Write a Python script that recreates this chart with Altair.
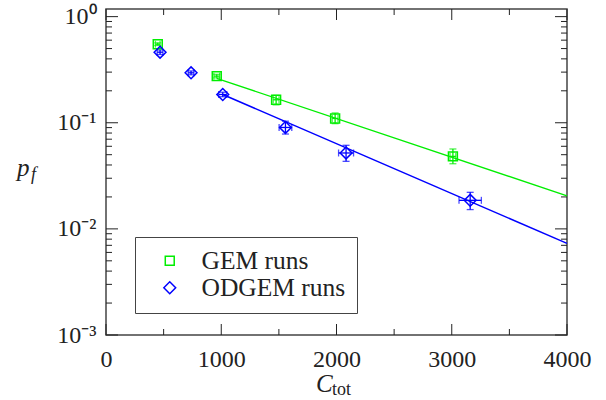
import altair as alt
import pandas as pd

# ---------------- data ----------------
series_names = ["GEM runs", "ODGEM runs"]
series_colors = ["#00ee00", "#0000ff"]

gem_x = [449, 961, 1476, 1988, 3010]
gem_y = [0.550, 0.275, 0.1646, 0.1098, 0.0482]
gem_ylo = [0.535, 0.265, 0.1475, 0.0981, 0.0411]
gem_yhi = [0.566, 0.286, 0.181, 0.1236, 0.0566]
gem_xerr = [20, 25, 25, 25, 25]

odg_x = [469, 738, 1013, 1557, 2083, 3160]
odg_y = [0.4625, 0.2954, 0.1846, 0.0903, 0.0519, 0.01858]
odg_ylo = [0.44, 0.283, 0.176, 0.0783, 0.0433, 0.0152]
odg_yhi = [0.486, 0.308, 0.194, 0.1034, 0.0613, 0.0221]
odg_xerr = [25, 25, 35, 55, 65, 97]

fit_gem_x = [960, 4000]
fit_gem_y = [0.262, 0.0205]
fit_odg_x = [1013, 4000]
fit_odg_y = [0.1846, 0.0073]

x_major = [0, 1000, 2000, 3000, 4000]
x_minor = [500, 1500, 2500, 3500]
y_major = [1.0, 0.1, 0.01, 0.001]
y_minor = [0.002, 0.003, 0.004, 0.005, 0.006, 0.007, 0.008, 0.009,
           0.02, 0.03, 0.04, 0.05, 0.06, 0.07, 0.08, 0.09,
           0.2, 0.3, 0.4, 0.5, 0.6, 0.7, 0.8, 0.9]

W, H = 461, 326
FONT = "Liberation Serif"

# ---------------- frames ----------------
def series_df(name, xs, ys, ylo, yhi, xerr):
    return pd.DataFrame({
        "series": name, "x": xs, "y": ys, "ylo": ylo, "yhi": yhi,
        "xlo": [a - e for a, e in zip(xs, xerr)],
        "xhi": [a + e for a, e in zip(xs, xerr)],
    })

gem = series_df(series_names[0], gem_x, gem_y, gem_ylo, gem_yhi, gem_xerr)
odg = series_df(series_names[1], odg_x, odg_y, odg_ylo, odg_yhi, odg_xerr)
pts = pd.concat([gem, odg], ignore_index=True)

xs = alt.Scale(domain=[0, 4000], nice=False, zero=False)
ys = alt.Scale(type="log", domain=[0.001, 1.18], nice=False)

xaxis = alt.Axis(values=x_major, format="d", ticks=False, domain=False, grid=False,
                 title=None, labelFont=FONT, labelFontSize=24, labelColor="#222",
                 labelPadding=12, labelFlush=False, labelOverlap=False)
yaxis = alt.Axis(values=y_major, ticks=False, domain=False, grid=False, title=None,
                 labelFont=FONT, labelFontSize=24, labelColor="#222", labelPadding=10,
                 labelOverlap=False,
                 labelExpr="datum.value >= 0.99 ? '10⁰' : datum.value >= 0.099 ? '10⁻¹' : datum.value >= 0.0099 ? '10⁻²' : '10⁻³'")

def X(f):
    return alt.X(f, type="quantitative", scale=xs, axis=xaxis)

def Y(f):
    return alt.Y(f, type="quantitative", scale=ys, axis=yaxis)

TICK = "#222"
layers = []

# inward ticks on all four sides
ymaj = pd.DataFrame({"v": y_major})
ymin = pd.DataFrame({"v": y_minor})
xmaj = pd.DataFrame({"v": x_major})
xmin = pd.DataFrame({"v": x_minor})
for df, ln in [(ymaj, 12), (ymin, 6)]:
    layers.append(alt.Chart(df).mark_rule(color=TICK, strokeWidth=1).encode(
        y=Y("v"), x=alt.value(0), x2=alt.value(ln)))
    layers.append(alt.Chart(df).mark_rule(color=TICK, strokeWidth=1).encode(
        y=Y("v"), x=alt.value(W - ln), x2=alt.value(W)))
for df, ln in [(xmaj, 11), (xmin, 6)]:
    layers.append(alt.Chart(df).mark_rule(color=TICK, strokeWidth=1).encode(
        x=X("v"), y=alt.value(H), y2=alt.value(H - ln)))
    layers.append(alt.Chart(df).mark_rule(color=TICK, strokeWidth=1).encode(
        x=X("v"), y=alt.value(0), y2=alt.value(ln)))

# fit lines
for fx, fy, col in [(fit_gem_x, fit_gem_y, series_colors[0]),
                    (fit_odg_x, fit_odg_y, series_colors[1])]:
    layers.append(alt.Chart(pd.DataFrame({"x": fx, "y": fy})).mark_line(
        color=col, strokeWidth=1.4).encode(x=X("x"), y=Y("y")))

# error bars
for df, col in [(gem, series_colors[0]), (odg, series_colors[1])]:
    layers.append(alt.Chart(df).mark_rule(color=col, strokeWidth=1.3).encode(
        x=X("x"), y=Y("ylo"), y2="yhi"))
    layers.append(alt.Chart(df).mark_rule(color=col, strokeWidth=1.3).encode(
        y=Y("y"), x=X("xlo"), x2="xhi"))
    for f in ["ylo", "yhi"]:
        layers.append(alt.Chart(df).mark_tick(color=col, orient="horizontal",
                                              thickness=1.3, size=7).encode(
            x=X("x"), y=Y(f)))
    for f in ["xlo", "xhi"]:
        layers.append(alt.Chart(df).mark_tick(color=col, orient="vertical",
                                              thickness=1.3, size=7).encode(
            x=X(f), y=Y("y")))

# markers with legend
layers.append(alt.Chart(pts).mark_point(filled=False, strokeWidth=1.5, opacity=1).encode(
    x=X("x"), y=Y("y"),
    color=alt.Color("series:N", scale=alt.Scale(domain=series_names, range=series_colors),
                    legend=alt.Legend(orient="none", legendX=29, legendY=228, title=None,
                                      strokeColor="#444", fillColor="white", padding=11,
                                      rowPadding=0, symbolOffset=11, labelOffset=19,
                                      labelFont=FONT, labelFontSize=25.5, labelColor="#222",
                                      symbolSize=100, symbolStrokeWidth=1.5)),
    shape=alt.Shape("series:N", scale=alt.Scale(domain=series_names,
                                                range=["square", "diamond"])),
    size=alt.Size("series:N", scale=alt.Scale(domain=series_names, range=[80, 140]),
                  legend=None),
))

# axis titles (with subscripts)
t1 = pd.DataFrame({"t": ["p"]})
t2 = pd.DataFrame({"t": ["f"]})
t3 = pd.DataFrame({"t": ["C"]})
t4 = pd.DataFrame({"t": ["tot"]})
layers.append(alt.Chart(t1).mark_text(font=FONT, fontSize=25, fontStyle="italic",
                                      align="left", baseline="alphabetic", color="#222").encode(
    text="t:N", x=alt.value(-89), y=alt.value(167)))
layers.append(alt.Chart(t2).mark_text(font=FONT, fontSize=18, fontStyle="italic",
                                      align="left", baseline="alphabetic", color="#222").encode(
    text="t:N", x=alt.value(-75), y=alt.value(171)))
layers.append(alt.Chart(t3).mark_text(font=FONT, fontSize=25, fontStyle="italic",
                                      align="left", baseline="alphabetic", color="#222").encode(
    text="t:N", x=alt.value(210), y=alt.value(383)))
layers.append(alt.Chart(t4).mark_text(font=FONT, fontSize=18,
                                      align="left", baseline="alphabetic", color="#222").encode(
    text="t:N", x=alt.value(226), y=alt.value(386)))

chart = alt.layer(*layers).properties(
    width=W, height=H,
    padding={"left": 106, "top": 9, "right": 606 - 106 - W, "bottom": 400 - 9 - H},
    autosize=alt.AutoSizeParams(type="none"),
).configure_view(stroke="#444", strokeWidth=1.5)

chart.save("out.html", embed_options={"renderer": "svg", "actions": False})
